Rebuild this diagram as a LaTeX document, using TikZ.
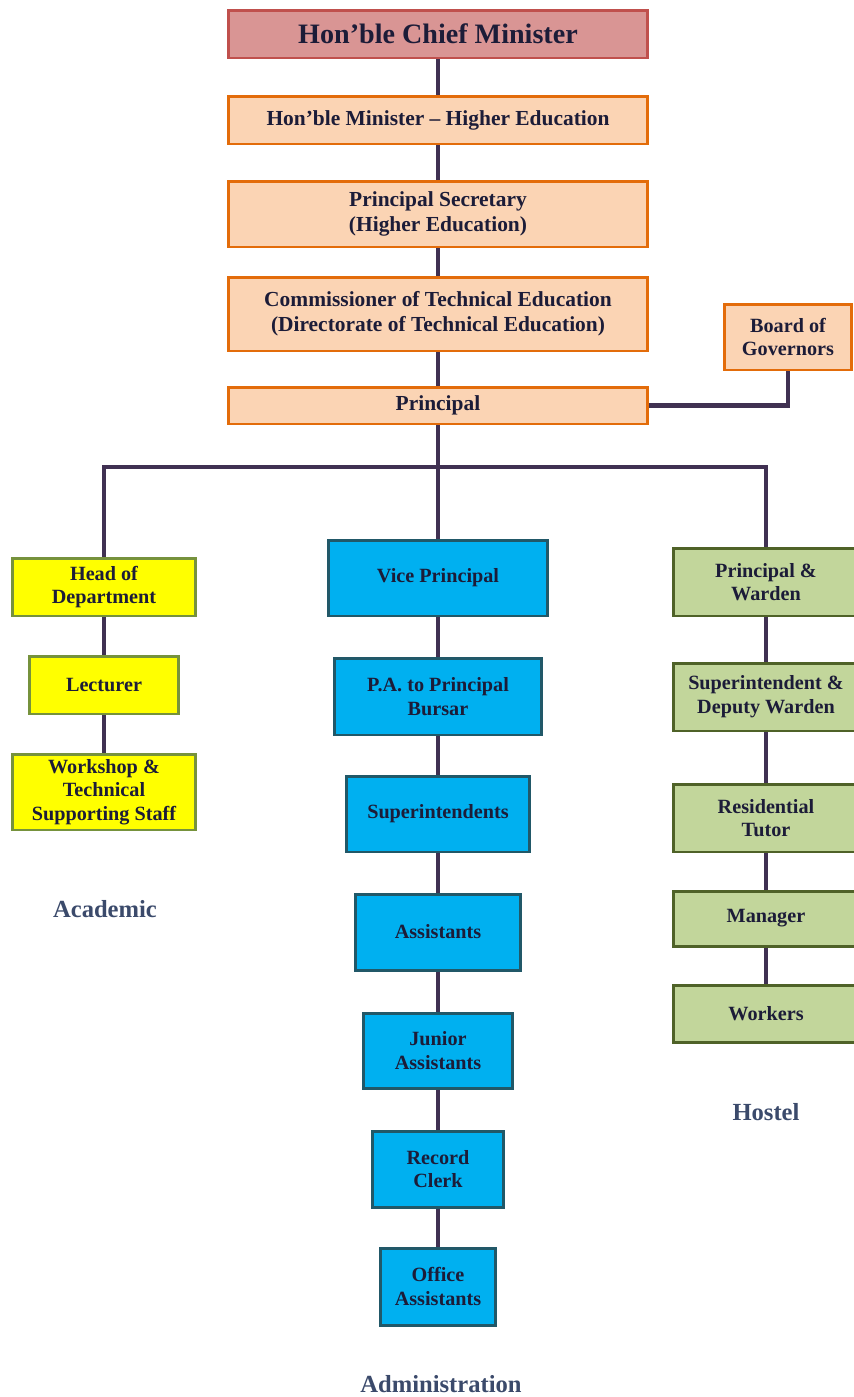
\documentclass[tikz,border=0pt]{standalone}
\usepackage{fontspec}
\setmainfont{Liberation Serif}
\definecolor{cmfill}{HTML}{D99594}
\definecolor{cmline}{HTML}{C0504D}
\definecolor{govfill}{HTML}{FBD4B4}
\definecolor{govline}{HTML}{E36C0A}
\definecolor{acadfill}{HTML}{FFFF00}
\definecolor{acadline}{HTML}{76923C}
\definecolor{adminfill}{HTML}{00B0F0}
\definecolor{adminline}{HTML}{215868}
\definecolor{hostfill}{HTML}{C2D69B}
\definecolor{hostline}{HTML}{4F6228}
\definecolor{linkc}{HTML}{403152}
\definecolor{ink}{HTML}{1C1C38}
\definecolor{capc}{HTML}{3B4A6B}

\begin{document}
\begin{tikzpicture}[
  x=0.02cm, y=-0.02cm,
  every node/.append style={font=\bfseries\fontsize{11.5}{13.5}\selectfont,
    text=ink, align=center, inner sep=0pt},
  chief/.style={draw=cmline, fill=cmfill, line width=1.7pt,
    font=\bfseries\fontsize{16}{18}\selectfont},
  gov/.style={draw=govline, fill=govfill, line width=1.7pt, minimum width=8.4cm,
    font=\bfseries\fontsize{12.2}{14}\selectfont},
  acad/.style={draw=acadline, fill=acadfill, line width=1.7pt},
  admin/.style={draw=adminline, fill=adminfill, line width=1.7pt},
  host/.style={draw=hostline, fill=hostfill, line width=1.7pt, minimum width=3.72cm},
  link/.style={draw=linkc, line width=2.3pt},
  wing/.style={text=capc, font=\bfseries\fontsize{14}{16}\selectfont}
  ]
  \useasboundingbox (0,0) rectangle (853,1397);

  % government
  \node[chief, minimum width=8.4cm, minimum height=0.96cm] (cm) at (438,34) {Hon'ble Chief Minister};
  \node[gov, minimum height=0.96cm] (min) at (438,120) {Hon'ble Minister -- Higher Education};
  \node[gov, minimum height=1.32cm] (sec) at (438,214) {Principal Secretary\\(Higher Education)};
  \node[gov, minimum height=1.48cm] (dte) at (438,314)
    {Commissioner of Technical Education\\(Directorate of Technical Education)};
  \node[gov, minimum height=0.74cm] (prin) at (438,405.5) {Principal};
  \node[gov, minimum width=2.54cm, minimum height=1.32cm,
    font=\bfseries\fontsize{11.5}{13.5}\selectfont] (bog) at (788,337) {Board of\\Governors};

  % academic
  \node[acad, minimum width=3.68cm, minimum height=1.16cm] (hod) at (104,587) {Head of\\Department};
  \node[acad, minimum width=3cm, minimum height=1.16cm] (lec) at (104,685) {Lecturer};
  \node[acad, minimum width=3.68cm, minimum height=1.52cm] (wts) at (104,792) {Workshop \&\\Technical\\Supporting Staff};
  \node[wing] (acadlbl) at (105,909) {Academic};

  % administration
  \node[admin, minimum width=4.38cm, minimum height=1.52cm] (vp) at (438,578) {Vice Principal};
  \node[admin, minimum width=4.16cm, minimum height=1.54cm] (pa) at (438,696.5) {P.A. to Principal\\Bursar};
  \node[admin, minimum width=3.66cm, minimum height=1.52cm] (sup) at (438,814) {Superintendents};
  \node[admin, minimum width=3.32cm, minimum height=1.52cm] (asst) at (438,932) {Assistants};
  \node[admin, minimum width=2.98cm, minimum height=1.5cm] (jr) at (438,1050.5) {Junior\\Assistants};
  \node[admin, minimum width=2.62cm, minimum height=1.52cm] (rc) at (438,1169) {Record\\Clerk};
  \node[admin, minimum width=2.3cm, minimum height=1.54cm] (oa) at (438,1286.5) {Office\\Assistants};
  \node[wing] (adminlbl) at (441,1384) {Administration};

  % hostel
  \node[host, minimum height=1.36cm] (pw) at (766,582) {Principal \&\\Warden};
  \node[host, minimum height=1.36cm] (sdw) at (766,697) {Superintendent \&\\Deputy Warden};
  \node[host, minimum height=1.36cm] (rt) at (766,818) {Residential\\Tutor};
  \node[host, minimum height=1.1cm] (mgr) at (766,918.5) {Manager};
  \node[host, minimum height=1.14cm] (wk) at (766,1013.5) {Workers};
  \node[wing] (hostlbl) at (766,1112) {Hostel};

  \foreach \a/\b in {cm/min, min/sec, sec/dte, dte/prin, prin/vp,
    vp/pa, pa/sup, sup/asst, asst/jr, jr/rc, rc/oa,
    hod/lec, lec/wts, pw/sdw, sdw/rt, rt/mgr, mgr/wk} {
    \draw[link] (\a) -- (\b);
  }
  \coordinate (bus) at (438,467);
  \draw[link] (hod) |- (bus) -| (pw);
  \draw[link] (prin) -| (bog);
\end{tikzpicture}
\end{document}
